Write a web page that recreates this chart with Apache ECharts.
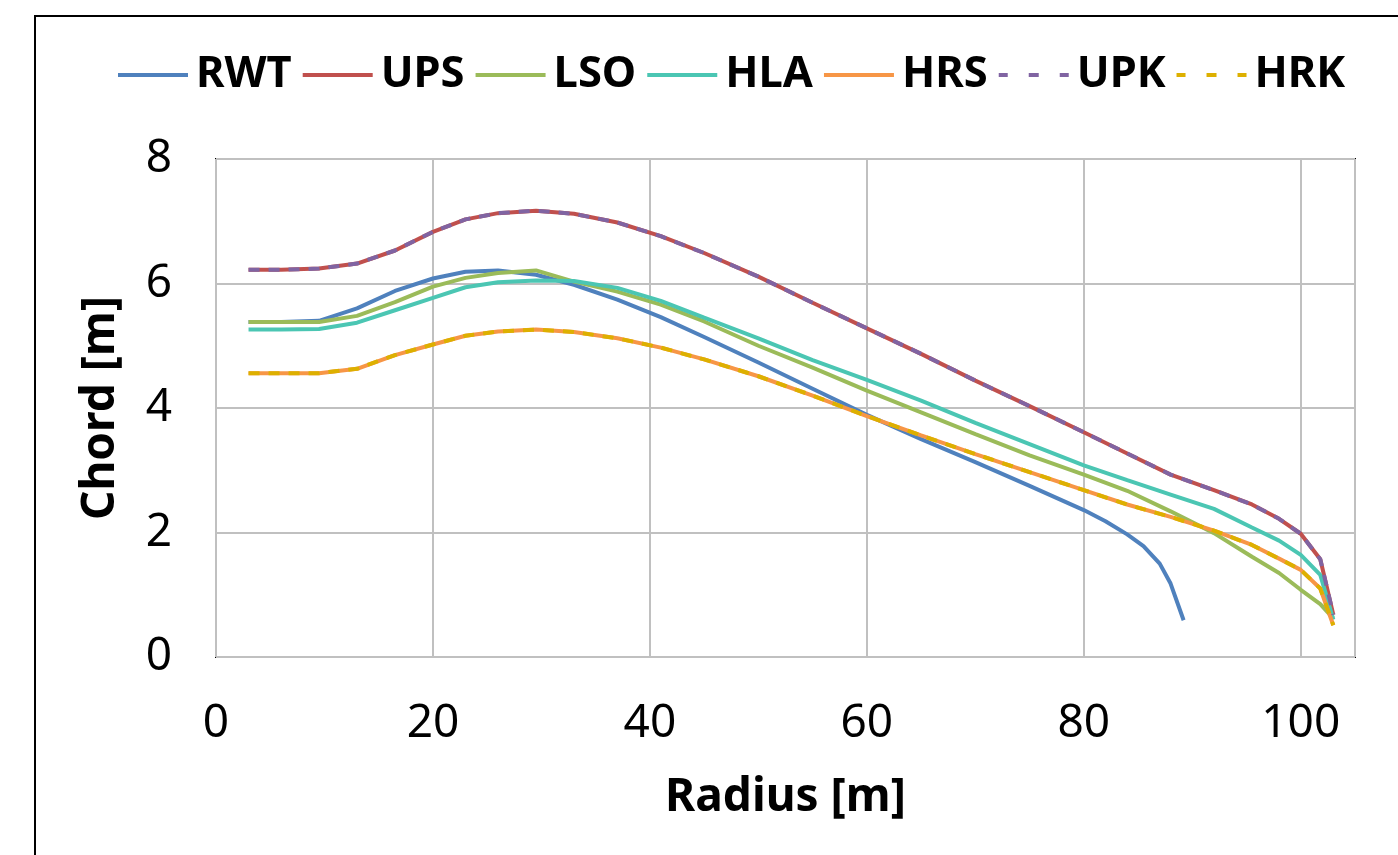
<!DOCTYPE html>
<html>
<head>
<meta charset="utf-8">
<title>Chord vs Radius</title>
<script src="https://cdn.jsdelivr.net/npm/echarts@6/dist/echarts.min.js"></script>
<style>
  html, body { margin: 0; padding: 0; background: #fff; }
  #chart { width: 1398px; height: 855px; }
</style>
</head>
<body>
<div id="chart"></div>
<script>
// radius stations [m]
const radiusRWT = [3, 6, 9.5, 13, 16.5, 20, 23, 26, 29.5, 33, 37, 41, 45, 50, 55, 60, 65, 70, 75, 80, 82, 84, 85.5, 87, 88, 89.2];
const radiusLong = [3, 6, 9.5, 13, 16.5, 20, 23, 26, 29.5, 33, 37, 41, 45, 50, 55, 60, 65, 70, 75, 80, 84, 88, 92, 95.5, 98, 100, 101.8, 103];

// chord [m]
const chordRWT = [5.38, 5.38, 5.40, 5.60, 5.88, 6.08, 6.19, 6.21, 6.14, 5.98, 5.74, 5.46, 5.14, 4.73, 4.31, 3.89, 3.50, 3.13, 2.75, 2.36, 2.18, 1.97, 1.78, 1.50, 1.18, 0.59];
const chordUPS = [6.22, 6.22, 6.24, 6.32, 6.53, 6.83, 7.03, 7.13, 7.17, 7.12, 6.98, 6.76, 6.49, 6.11, 5.69, 5.28, 4.87, 4.44, 4.03, 3.61, 3.27, 2.93, 2.68, 2.45, 2.22, 1.98, 1.57, 0.68];
const chordLSO = [5.38, 5.38, 5.38, 5.48, 5.70, 5.95, 6.09, 6.17, 6.21, 6.03, 5.87, 5.66, 5.39, 5.00, 4.65, 4.28, 3.93, 3.58, 3.24, 2.93, 2.67, 2.34, 1.99, 1.61, 1.35, 1.08, 0.85, 0.62];
const chordHLA = [5.26, 5.26, 5.27, 5.37, 5.57, 5.77, 5.94, 6.02, 6.05, 6.04, 5.93, 5.72, 5.45, 5.12, 4.77, 4.45, 4.12, 3.76, 3.42, 3.08, 2.84, 2.61, 2.38, 2.08, 1.87, 1.64, 1.32, 0.60];
const chordHRS = [4.56, 4.56, 4.56, 4.63, 4.85, 5.02, 5.16, 5.23, 5.26, 5.22, 5.12, 4.97, 4.78, 4.51, 4.20, 3.87, 3.56, 3.26, 2.97, 2.68, 2.45, 2.25, 2.03, 1.80, 1.58, 1.40, 1.10, 0.51];
const chordUPK = chordUPS.slice();
const chordHRK = chordHRS.slice();

const names = ["RWT", "UPS", "LSO", "HLA", "HRS", "UPK", "HRK"];
const colors = ["#4f81bd", "#c0504d", "#9bbb59", "#4bc6b3", "#f79646", "#8064a2", "#ddb000"];

function pairs(xs, ys) {
  return xs.map(function (x, i) { return [x, ys[i]]; });
}

const seriesData = [
  pairs(radiusRWT, chordRWT),
  pairs(radiusLong, chordUPS),
  pairs(radiusLong, chordLSO),
  pairs(radiusLong, chordHLA),
  pairs(radiusLong, chordHRS),
  pairs(radiusLong, chordUPK),
  pairs(radiusLong, chordHRK)
];

const font = "'Noto Sans', 'Open Sans', sans-serif";
// legend icons: a solid bar and a short-dash bar
const solidIcon = "path://M0,0h70v4h-70z";
const dashIcon = "path://M0,0h9v4h-9z M30,0h10v4h-10z M61,0h9v4h-9z";

let myChart = echarts.init(document.getElementById("chart"));

let series = names.map(function (n, i) {
  let dashed = n === "UPK" || n === "HRK";
  return {
    name: n,
    type: "line",
    data: seriesData[i],
    showSymbol: false,
    symbol: "none",
    smooth: false,
    animation: false,
    lineStyle: {
      color: colors[i],
      width: 4,
      type: dashed ? [11, 9] : "solid"
    },
    itemStyle: { color: colors[i] }
  };
});

let option = {
  backgroundColor: "#fff",
  animation: false,
  graphic: [{
    type: "rect",
    shape: { x: 35, y: 16, width: 1400, height: 900 },
    style: { fill: "none", stroke: "#000", lineWidth: 2 },
    silent: true
  }],
  legend: {
    left: 113,
    top: 48,
    width: 1285,
    itemWidth: 70,
    itemHeight: 4,
    itemGap: 11,
    data: names.map(function (n) {
      return { name: n, icon: (n === "UPK" || n === "HRK") ? dashIcon : solidIcon };
    }),
    textStyle: {
      fontFamily: font,
      fontSize: 43.5,
      fontWeight: "bold",
      color: "#000",
      padding: [0, 0, 0, 3]
    }
  },
  grid: {
    left: 216,
    right: 43,
    top: 159,
    bottom: 198,
    show: true,
    borderColor: "#000",
    borderWidth: 2,
    backgroundColor: "#fff"
  },
  xAxis: {
    type: "value",
    min: 0,
    max: 105,
    interval: 20,
    name: "Radius [m]",
    nameLocation: "middle",
    nameGap: 118,
    nameTextStyle: { fontFamily: font, fontSize: 46, fontWeight: "bold", color: "#000" },
    axisLine: { show: false },
    axisTick: { show: false },
    axisLabel: { fontFamily: font, fontSize: 46, color: "#000", margin: 44, showMaxLabel: false },
    splitLine: { show: true, lineStyle: { color: "#c0c0c0", width: 2 } }
  },
  yAxis: {
    type: "value",
    min: 0,
    max: 8,
    interval: 2,
    name: "Chord [m]",
    nameLocation: "middle",
    nameGap: 92,
    nameTextStyle: { fontFamily: font, fontSize: 46, fontWeight: "bold", color: "#000" },
    axisLine: { show: false },
    axisTick: { show: false },
    axisLabel: { fontFamily: font, fontSize: 46, color: "#000", margin: 44 },
    splitLine: { show: true, lineStyle: { color: "#c0c0c0", width: 2 } }
  },
  series: series
};

myChart.setOption(option);
window.addEventListener("resize", function () {
  myChart.resize();
});
</script>
</body>
</html>
